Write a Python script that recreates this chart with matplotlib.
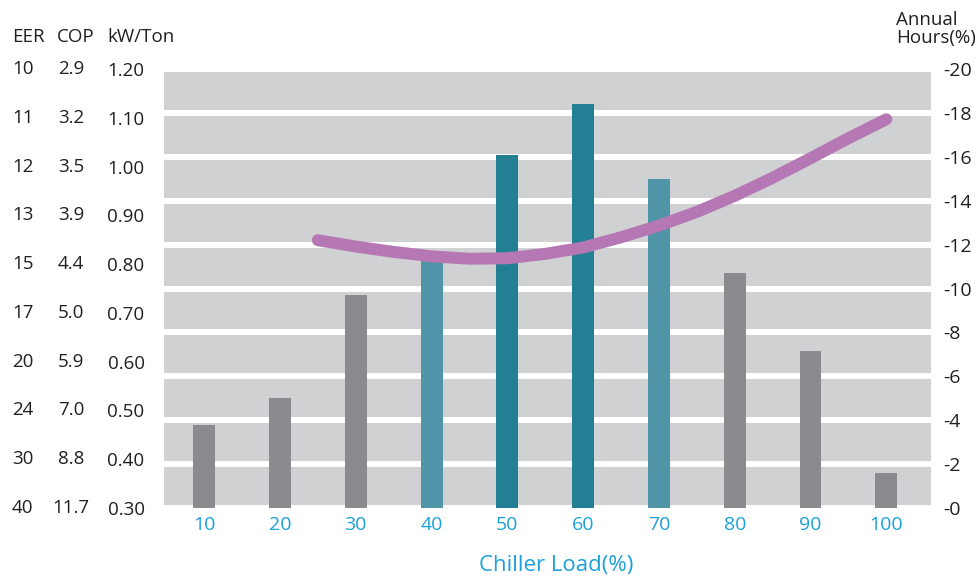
import matplotlib
matplotlib.use("Agg")
import matplotlib.pyplot as plt
import matplotlib.transforms as mtransforms

plt.rcParams['font.family'] = ['Open Sans', 'DejaVu Sans']

# 부하(%) 별 연간 운전시간 막대
loads = [10, 20, 30, 40, 50, 60, 70, 80, 90, 100]
annual_hours = [3.8, 5.0, 9.7, 11.5, 16.1, 18.4, 15.0, 10.7, 7.15, 1.6]
bar_colors = ['#8a8b8f', '#8a8b8f', '#8a8b8f', '#5094a8', '#237f94',
              '#237f94', '#5094a8', '#8a8b8f', '#8a8b8f', '#8a8b8f']

# kW/Ton 곡선
curve_load = [25, 30, 35, 40, 45, 50, 55, 60, 65, 70, 75, 80, 85, 90, 95, 100]
curve_kw = [0.849, 0.836, 0.825, 0.816, 0.811, 0.812, 0.821, 0.834, 0.855,
            0.879, 0.907, 0.940, 0.977, 1.017, 1.058, 1.097]

# 왼쪽 눈금 (EER, COP, kW/Ton)
kw_ticks = [1.20, 1.10, 1.00, 0.90, 0.80, 0.70, 0.60, 0.50, 0.40, 0.30]
eer_labels = ['10', '11', '12', '13', '15', '17', '20', '24', '30', '40']
cop_labels = ['2.9', '3.2', '3.5', '3.9', '4.4', '5.0', '5.9', '7.0', '8.8', '11.7']
hour_ticks = [0, 2, 4, 6, 8, 10, 12, 14, 16, 18, 20]

text_col = '#231f20'
blue = '#1ba1db'
fs = 13.5

fig = plt.figure(figsize=(9.79, 5.76), dpi=100)
ax = fig.add_axes([164/979, 68/576, 767/979, 439/576])
ax2 = ax.twinx()

# 막대와 배경은 ax2, 곡선은 ax 위에 그린다
ax.set_zorder(2)
ax.patch.set_visible(False)
ax2.set_zorder(1)
ax2.patch.set_visible(True)
ax2.set_facecolor('#d0d1d3')

ax2.set_ylim(0, 20)
ax2.set_axisbelow(True)
ax2.set_yticks(hour_ticks)
ax2.set_yticklabels(['-%d' % h for h in hour_ticks], fontsize=14, color=text_col)
ax2.tick_params(axis='y', length=0, pad=9)
for lab in ax2.get_yticklabels():
    lab.set_horizontalalignment('left')
ax2.grid(True, axis='y', color='white', linewidth=4.3)
ax2.bar(loads, annual_hours, width=2.9, color=bar_colors, zorder=2)

ax.plot(curve_load, curve_kw, color='#b578b4', linewidth=8.6,
        solid_capstyle='round', solid_joinstyle='round')
ax.set_ylim(0.30, 1.20)
ax.set_xlim(4.7, 105.9)
ax.set_yticks(kw_ticks)
ax.set_yticklabels(['%.2f' % v for v in kw_ticks], fontsize=fs, color=text_col)
ax.tick_params(axis='y', length=0, pad=14)
ax.set_xticks(loads)
ax.set_xticklabels([str(v) for v in loads], fontsize=14, color=blue)
ax.tick_params(axis='x', length=0, pad=6)

for a in (ax, ax2):
    for s in a.spines.values():
        s.set_visible(False)

# EER, COP 열
trans = mtransforms.blended_transform_factory(fig.transFigure, ax.transData)
for v, e, c in zip(kw_ticks, eer_labels, cop_labels):
    ax.text(12/979, v, e, transform=trans, ha='left', va='center',
            fontsize=fs, color=text_col)
    ax.text(71/979, v, c, transform=trans, ha='center', va='center',
            fontsize=fs, color=text_col)

fig.text(12/979, 1 - 37/576, 'EER', ha='left', va='center', fontsize=fs, color=text_col)
fig.text(57/979, 1 - 37/576, 'COP', ha='left', va='center', fontsize=fs, color=text_col)
fig.text(107/979, 1 - 37/576, 'kW/Ton', ha='left', va='center', fontsize=fs, color=text_col)
fig.text(896/979, 1 - 29/576, 'Annual\nHours(%)', ha='left', va='center',
         fontsize=13.5, color=text_col, linespacing=1.0)

fig.text(556/979, 1 - 565/576, 'Chiller Load(%)', ha='center', va='center',
         fontsize=16, color=blue)

fig.savefig('out.png', dpi=100)
